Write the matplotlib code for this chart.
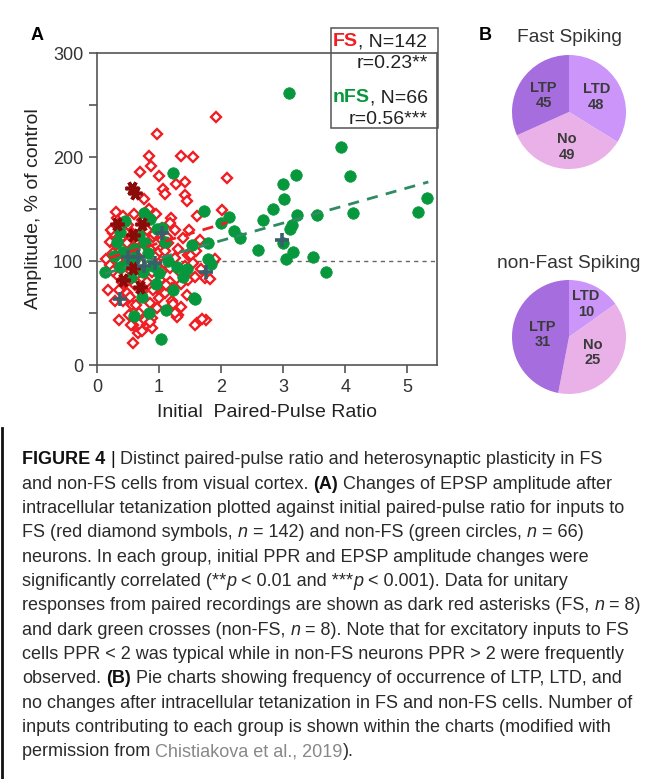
import numpy as np
import matplotlib
matplotlib.use("Agg")
import matplotlib.pyplot as plt
from matplotlib.patches import Rectangle
from matplotlib.lines import Line2D
from matplotlib.font_manager import FontProperties

plt.rcParams['font.family'] = ['Liberation Sans', 'DejaVu Sans']

# ---------------- data ----------------
fs_x = [1.92, 0.97, 0.84, 0.87, 0.69, 1.00, 1.35, 1.55, 2.10, 1.27, 1.42, 1.06, 1.10, 1.42, 1.45,
        0.84, 2.02, 0.32, 1.19, 1.61, 1.87, 1.74, 1.61, 1.76, 0.95, 0.31, 0.34, 0.73, 1.18, 1.05,
        0.21, 1.13, 1.39, 1.02, 1.47, 1.05, 1.15, 1.52, 1.90, 1.82, 1.58, 1.45, 1.18, 1.21, 1.02,
        0.97, 1.21, 1.23, 1.31, 1.29, 1.58, 1.36, 0.35, 0.58, 0.58, 0.66, 0.73, 0.80, 0.88, 0.77,
        1.26, 0.89, 0.56, 0.48, 0.35, 0.29, 0.18, 0.45, 0.45, 0.61, 0.69, 0.89, 0.97, 1.18, 1.34,
        1.47, 1.26, 0.98, 0.85, 0.61, 0.48, 0.26, 0.21, 0.32, 0.26, 0.56, 0.42, 0.80, 0.90, 1.10,
        0.53, 0.66, 0.73, 0.58, 0.40, 0.48, 0.63, 0.53, 0.97, 1.10, 0.42, 0.85, 0.55, 1.69, 0.22,
        0.38, 0.50, 0.65, 0.78, 0.70, 0.82, 0.93, 1.08, 1.30, 1.42, 1.55, 0.36, 0.25, 0.55, 0.40,
        0.62, 0.80, 0.90, 0.72, 1.05, 1.12, 1.35, 1.60, 1.68, 0.52, 0.68, 1.00, 0.92, 0.45, 0.30,
        1.25, 0.75, 0.60, 1.48, 1.66, 0.15, 0.85]
fs_y = [238, 222, 201, 191, 186, 182, 201, 200, 180, 174, 176, 169, 164, 163, 158,
        150, 149, 141, 141, 143, 99, 84, 40, 43, 145, 147, 136, 139, 137, 132,
        118, 123, 122, 111, 106, 120, 117, 106, 102, 83, 85, 67, 80, 74, 82,
        74, 62, 59, 48, 46, 38, 56, 43, 38, 21, 31, 33, 38, 36, 43,
        50, 45, 58, 65, 72, 62, 72, 87, 79, 77, 91, 89, 99, 93, 89,
        82, 103, 108, 112, 113, 117, 108, 96, 87, 127, 127, 143, 130, 123, 110,
        101, 104, 84, 93, 80, 69, 58, 65, 55, 69, 62, 41, 38, 44, 130,
        122, 135, 120, 115, 98, 95, 104, 98, 112, 95, 98, 100, 90, 110, 95,
        86, 80, 72, 70, 90, 77, 78, 110, 92, 48, 50, 64, 126, 128, 115,
        130, 160, 145, 130, 120, 102, 60]

nfs_x = [3.10, 3.94, 4.08, 4.13, 5.18, 5.32, 3.21, 3.00, 3.02, 2.84, 2.68, 3.22, 3.55, 3.15, 3.11,
         3.00, 3.16, 3.05, 3.48, 3.69, 2.60, 1.73, 2.13, 2.00, 2.21, 2.31, 1.79, 1.79, 1.84, 1.58,
         1.23, 0.76, 0.37, 0.32, 0.77, 0.82, 0.97, 0.42, 0.50, 0.37, 0.13, 0.74, 1.29, 1.39, 1.23,
         1.53, 0.73, 0.60, 0.84, 1.11, 1.03, 1.05, 0.45, 0.62, 0.90, 1.10, 0.55, 0.95, 1.45, 0.28,
         0.68, 1.15, 0.85, 0.60, 1.00, 1.56]
nfs_y = [262, 210, 182, 146, 147, 161, 183, 174, 160, 150, 139, 144, 144, 135, 131,
         117, 109, 102, 104, 89, 111, 148, 142, 137, 129, 122, 117, 102, 97, 63,
         185, 146, 128, 118, 117, 108, 131, 109, 98, 94, 89, 89, 94, 85, 72,
         115, 65, 47, 50, 53, 25, 132, 138, 103, 95, 118, 85, 78, 92, 105,
         125, 100, 140, 112, 88, 64]

fs_pair_x = [0.56, 0.61, 0.32, 0.73, 0.58, 0.58, 0.42, 0.69]
fs_pair_y = [170, 165, 136, 136, 125, 93, 82, 75]
nfs_pair_x = [1.05, 0.37, 0.94, 1.76, 0.50, 0.66, 2.98, 0.75]
nfs_pair_y = [127, 63, 98, 89, 104, 104, 120, 95]

fs_fit_x = [0.20, 2.10]
fs_fit_y = [103, 137]
nfs_fit_x = [0.13, 5.34]
nfs_fit_y = [88, 176]

pie_labels = ['LTD', 'No', 'LTP']
fs_counts = [48, 49, 45]
nfs_counts = [10, 25, 31]

x_ticks = [0, 1, 2, 3, 4, 5]
y_ticks = [0, 100, 200, 300]

# ---------------- figure ----------------
W, H = 651, 779
fig = plt.figure(figsize=(W / 100, H / 100), dpi=100)
def fx(px): return px / W
def fy(py): return 1 - py / H

RED = '#f01e23'
GREEN = '#07973c'
TXT = '#333333'

ax = fig.add_axes([fx(97), fy(365), fx(437) - fx(97), fy(53) - fy(365)])
ax.set_xlim(0, 5.48)
ax.set_ylim(0, 300)
ax.axhline(100, color='#666666', lw=1.0, ls=(0, (3, 3)), zorder=1)

ax.plot(fs_x, fs_y, ls='none', marker='D', ms=5.2, mfc='white', mec=RED, mew=1.7, zorder=3)
ax.plot(nfs_x, nfs_y, ls='none', marker='o', ms=8.3, mfc=GREEN, mec=GREEN, mew=0.5, zorder=4)
ax.plot(fs_fit_x, fs_fit_y, color=RED, lw=2.0, ls=(0, (4, 3)), zorder=5)
ax.plot(nfs_fit_x, nfs_fit_y, color='#2e8b62', lw=2.0, ls=(0, (4, 3)), zorder=5)
ax.plot(fs_pair_x, fs_pair_y, ls='none', marker=(6, 2, 90), ms=10, mec='#8b0a0a', mew=2.6, zorder=6)
ax.plot(nfs_pair_x, nfs_pair_y, ls='none', marker='+', ms=10, mec='#37606b', mew=2.6, zorder=6)

ax.set_xticks(x_ticks)
ax.set_yticks(y_ticks)
ax.set_yticks([50, 150, 250], minor=True)
ax.tick_params(axis='both', which='both', direction='out', length=6, width=1.2,
               color='#555555', labelsize=13, labelcolor=TXT, pad=4)
for sp in ax.spines.values():
    sp.set_color('#555555')
    sp.set_linewidth(1.2)
ax.set_ylabel('Amplitude, % of control', fontsize=14, color='#222222', labelpad=8)
ax.set_xlabel('Initial  Paired-Pulse Ratio', fontsize=14, color='#222222', labelpad=6)

fig.text(fx(37), fy(36), 'A', fontsize=13, fontweight='bold', ha='center', va='center')
fig.text(fx(485), fy(36), 'B', fontsize=13, fontweight='bold', ha='center', va='center')

# ---------------- rich text helper ----------------
renderer = fig.canvas.get_renderer()

def seg_width(s, fp):
    w1, _, _ = renderer.get_text_width_height_descent('|' + s + '|', fp, ismath=False)
    w0, _, _ = renderer.get_text_width_height_descent('||', fp, ismath=False)
    return w1 - w0

def rich(x_px, y_px, segments, size, family, color=TXT, va='baseline'):
    x = x_px
    for seg in segments:
        s = seg[0]
        st = seg[1] if len(seg) > 1 else {}
        fp = FontProperties(family=family, size=size,
                            weight=st.get('weight', 'normal'), style=st.get('style', 'normal'))
        lead = s[:len(s) - len(s.lstrip(' '))]
        core = s.strip(' ')
        if core:
            fig.text(fx(x + (seg_width(lead, fp) if lead else 0)), fy(y_px), core,
                     fontproperties=fp, color=st.get('color', color), ha='left', va=va)
        x += seg_width(s, fp)
    return x

# ---------------- legend box ----------------
fig.patches.append(Rectangle((fx(331), fy(128)), fx(438) - fx(331), fy(28) - fy(128),
                             transform=fig.transFigure, fill=False, ec='#555555', lw=1.1))
LF = ['Liberation Sans', 'DejaVu Sans']
rich(333, 42, [('FS', {'weight': 'bold', 'color': RED}), (', N=142',)], 14, LF, color='#222222', va='center')
fig.text(fx(428), fy(64), 'r=0.23**', fontsize=14, color='#222222', ha='right', va='center')
rich(333, 98, [('nFS', {'weight': 'bold', 'color': GREEN}), (', N=66',)], 14, LF, color='#222222', va='center')
fig.text(fx(428), fy(120), 'r=0.56***', fontsize=14, color='#222222', ha='right', va='center')

# ---------------- pies ----------------
pie_colors = ['#cc95fa', '#eab0e8', '#a66ddf']
def draw_pie(cx, cy, r, counts, title, title_y, dists):
    pax = fig.add_axes([fx(cx - r), fy(cy + r), 2 * r / W, 2 * r / H])
    wedges, _ = pax.pie(counts, colors=pie_colors, startangle=90, counterclock=False,
                        radius=1, wedgeprops=dict(lw=0))
    pax.set_xlim(-1, 1)
    pax.set_ylim(-1, 1)
    pax.axis('off')
    for w, lab, c, d in zip(wedges, pie_labels, counts, dists):
        ang = np.deg2rad((w.theta1 + w.theta2) / 2)
        pax.text(d * np.cos(ang), d * np.sin(ang), f'{lab}\n{c}', ha='center', va='center',
                 fontsize=10.5, fontweight='bold', color='#3a3a3a', linespacing=1.15)
    fig.text(fx(cx), fy(title_y), title, fontsize=13.8, color=TXT, ha='center', va='center')

draw_pie(569, 112, 57, fs_counts, 'Fast Spiking', 38, [0.55, 0.61, 0.53])
draw_pie(569, 337, 57, nfs_counts, 'non-Fast Spiking', 263, [0.65, 0.5, 0.47])

# ---------------- caption ----------------
fig.add_artist(Line2D([fx(1.5), fx(1.5)], [fy(428), fy(779)], transform=fig.transFigure,
                      color='#111111', lw=2))
CF = ['Liberation Sans Narrow', 'Liberation Sans', 'DejaVu Sans']
B = {'weight': 'bold', 'color': '#111111'}
I = {'style': 'italic'}
G = {'color': '#888888'}
cap_lines = [
    [('FIGURE 4', B), (' | ', {'color': '#111111'}), ('Distinct paired-pulse ratio and heterosynaptic plasticity in FS',)],
    [('and non-FS cells from visual cortex. ',), ('(A)', B), (' Changes of EPSP amplitude after',)],
    [('intracellular tetanization plotted against initial paired-pulse ratio for inputs to',)],
    [('FS (red diamond symbols, ',), ('n', I), (' = 142) and non-FS (green circles, ',), ('n', I), (' = 66)',)],
    [('neurons. In each group, initial PPR and EPSP amplitude changes were',)],
    [('significantly correlated (**',), ('p', I), (' < 0.01 and ***',), ('p', I), (' < 0.001). Data for unitary',)],
    [('responses from paired recordings are shown as dark red asterisks (FS, ',), ('n', I), (' = 8)',)],
    [('and dark green crosses (non-FS, ',), ('n', I), (' = 8). Note that for excitatory inputs to FS',)],
    [('cells PPR < 2 was typical while in non-FS neurons PPR > 2 were frequently',)],
    [('observed. ',), ('(B)', B), (' Pie charts showing frequency of occurrence of LTP, LTD, and',)],
    [('no changes after intracellular tetanization in FS and non-FS cells. Number of',)],
    [('inputs contributing to each group is shown within the charts (modified with',)],
    [('permission from ',), ('Chistiakova et al., 2019', G), (').',)],
]
for i, segs in enumerate(cap_lines):
    rich(22, 464.5 + 24.3 * i, segs, 12.95, CF, color='#2a2a2a')

fig.savefig('out.png', dpi=100)
